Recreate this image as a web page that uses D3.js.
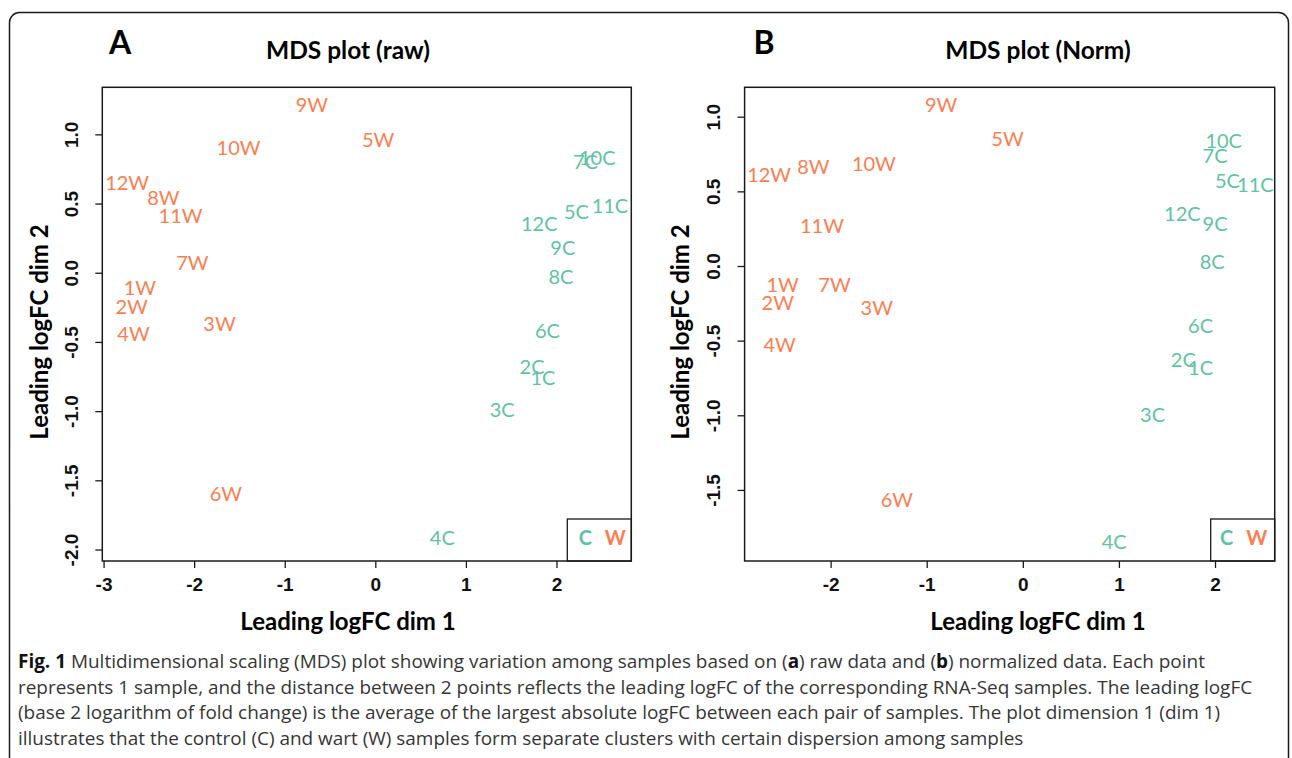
<!DOCTYPE html>
<html>
<head>
<meta charset="utf-8">
<script src="https://cdn.jsdelivr.net/npm/d3@7"></script>
<style>
body { margin: 0; background: #fff; }
svg { display: block; }
</style>
</head>
<body>
<svg id="G1"></svg>
<script>
//* MDS plots, raw and normalised *//

const SAMPLES = ["1W", "2W", "3W", "4W", "5W", "6W", "7W", "8W", "9W", "10W", "11W", "12W",
                 "1C", "2C", "3C", "4C", "5C", "6C", "7C", "8C", "9C", "10C", "11C", "12C"];
const GROUPS = ["W", "W", "W", "W", "W", "W", "W", "W", "W", "W", "W", "W",
                "C", "C", "C", "C", "C", "C", "C", "C", "C", "C", "C", "C"];

const RAW_DIM1 = [-2.60, -2.69, -1.72, -2.67, 0.03, -1.65, -2.02, -2.34, -0.70, -1.51, -2.15, -2.74,
                  1.85, 1.73, 1.40, 0.74, 2.22, 1.90, 2.32, 2.05, 2.07, 2.45, 2.59, 1.81];
const RAW_DIM2 = [-0.11, -0.25, -0.37, -0.44, 0.96, -1.60, 0.07, 0.54, 1.21, 0.90, 0.41, 0.65,
                  -0.76, -0.68, -0.99, -1.92, 0.44, -0.42, 0.80, -0.03, 0.18, 0.83, 0.48, 0.35];

const NORM_DIM1 = [-2.50, -2.55, -1.52, -2.53, -0.16, -1.31, -1.96, -2.18, -0.85, -1.55, -2.09, -2.64,
                   1.85, 1.67, 1.35, 0.95, 2.13, 1.85, 2.00, 1.97, 2.00, 2.09, 2.42, 1.66];
const NORM_DIM2 = [-0.13, -0.25, -0.28, -0.53, 0.85, -1.57, -0.13, 0.66, 1.08, 0.68, 0.27, 0.61,
                   -0.68, -0.63, -1.00, -1.85, 0.57, -0.40, 0.74, 0.03, 0.28, 0.84, 0.54, 0.35];

const RAW_X_TICKS = [-3, -2, -1, 0, 1, 2];
const RAW_Y_TICKS = [-2, -1.5, -1, -0.5, 0, 0.5, 1];
const NORM_X_TICKS = [-2, -1, 0, 1, 2];
const NORM_Y_TICKS = [-1.5, -1, -0.5, 0, 0.5, 1];
const LEGEND = ["C", "W"];

const COLORS = { C: "#5fc3a1", W: "#fc7e50" };
const WIDTH = 1292;
const HEIGHT = 758;
const LABEL_FONT = "Lato, 'Open Sans', sans-serif";
const TICK_FONT = "'Liberation Sans', Arial, sans-serif";

const svg = d3.select('#G1')
.attr('width', WIDTH)
.attr('height', HEIGHT)
;

//Outer frame
svg.append('rect')
.attr('x', 9.5)
.attr('y', 12.5)
.attr('width', 1279)
.attr('height', 820)
.attr('rx', 10)
.attr('fill', 'none')
.attr('stroke', '#1a1a1a')
.attr('stroke-width', 1.5)
;

function drawPanel(p) {
    const g = svg.append('g');

    const x = d3.scaleLinear().domain(p.xDomain).range([p.left, p.right]);
    const y = d3.scaleLinear().domain(p.yDomain).range([p.bottom, p.top]);

    const points = SAMPLES.map((s, i) => ({ name: s, group: GROUPS[i], d1: p.dim1[i], d2: p.dim2[i] }));

    //X axis
    const xAxis = g.append('g')
    .attr('transform', `translate(0, ${p.bottom})`)
    .call(d3.axisBottom(x).tickValues(p.xTicks).tickSize(7).tickSizeOuter(0).tickPadding(10).tickFormat(d => String(d)))
    ;
    xAxis.select('.domain').remove();
    xAxis.selectAll('line').attr('stroke', '#1a1a1a').attr('stroke-width', 1.3);
    xAxis.selectAll('text')
    .attr('font-family', TICK_FONT)
    .attr('font-weight', 'bold')
    .attr('font-size', 19)
    .attr('fill', '#111')
    ;

    //Y axis, labels turned like R's default
    const yAxis = g.append('g')
    .attr('transform', `translate(${p.left}, 0)`)
    .call(d3.axisLeft(y).tickValues(p.yTicks).tickSize(7).tickSizeOuter(0).tickFormat(d => d.toFixed(1)))
    ;
    yAxis.select('.domain').remove();
    yAxis.selectAll('line').attr('stroke', '#1a1a1a').attr('stroke-width', 1.3);
    yAxis.selectAll('text')
    .attr('transform', 'rotate(-90)')
    .attr('x', 0)
    .attr('y', -31)
    .attr('dy', '0.35em')
    .attr('text-anchor', 'middle')
    .attr('font-family', TICK_FONT)
    .attr('font-weight', 'bold')
    .attr('font-size', 19)
    .attr('fill', '#111')
    ;

    //Plot box
    g.append('rect')
    .attr('x', p.left)
    .attr('y', p.top)
    .attr('width', p.right - p.left)
    .attr('height', p.bottom - p.top)
    .attr('fill', 'none')
    .attr('stroke', '#1a1a1a')
    .attr('stroke-width', 1.5)
    ;

    //Sample labels
    g.selectAll('.sample')
    .data(points)
    .enter()
    .append('text')
    .classed('sample', true)
    .attr('x', d => x(d.d1))
    .attr('y', d => y(d.d2))
    .attr('dy', '0.35em')
    .attr('text-anchor', 'middle')
    .attr('font-family', LABEL_FONT)
    .attr('font-size', 20)
    .attr('fill', d => COLORS[d.group])
    .text(d => d.name)
    ;

    //Legend bottom right
    const lg = g.append('g');
    lg.append('rect')
    .attr('x', p.right - 64)
    .attr('y', p.bottom - 42)
    .attr('width', 64)
    .attr('height', 42)
    .attr('fill', 'none')
    .attr('stroke', '#1a1a1a')
    .attr('stroke-width', 1.3)
    ;
    lg.selectAll('.leg')
    .data(LEGEND)
    .enter()
    .append('text')
    .attr('x', (d, i) => p.right - p.legendOffsets[i])
    .attr('y', p.bottom - 23)
    .attr('dy', '0.35em')
    .attr('text-anchor', 'middle')
    .attr('font-family', LABEL_FONT)
    .attr('font-weight', 'bold')
    .attr('font-size', 20)
    .attr('fill', d => COLORS[d])
    .text(d => d)
    ;

    //Titles
    g.append('text')
    .attr('x', p.letterX)
    .attr('y', 54)
    .attr('text-anchor', 'middle')
    .attr('font-family', LABEL_FONT)
    .attr('font-weight', 'bold')
    .attr('font-size', 32)
    .text(p.letter)
    ;
    g.append('text')
    .attr('x', p.titleX)
    .attr('y', 59)
    .attr('text-anchor', 'middle')
    .attr('font-family', LABEL_FONT)
    .attr('font-weight', 'bold')
    .attr('font-size', 24.5)
    .text(p.title)
    ;
    g.append('text')
    .attr('x', p.titleX)
    .attr('y', 630)
    .attr('text-anchor', 'middle')
    .attr('font-family', LABEL_FONT)
    .attr('font-weight', 'bold')
    .attr('font-size', 24)
    .text('Leading logFC dim 1')
    ;
    g.append('text')
    .attr('transform', `translate(${p.yTitleX}, 332) rotate(-90)`)
    .attr('text-anchor', 'middle')
    .attr('dy', '0.35em')
    .attr('font-family', LABEL_FONT)
    .attr('font-weight', 'bold')
    .attr('font-size', 24)
    .text('Leading logFC dim 2')
    ;
}

drawPanel({
    letter: 'A', letterX: 120, title: 'MDS plot (raw)', titleX: 348, yTitleX: 40,
    left: 102.3, right: 631.3, top: 87.3, bottom: 561,
    xDomain: [-3.014, 2.826], yDomain: [-2.083, 1.34],
    xTicks: RAW_X_TICKS, yTicks: RAW_Y_TICKS,
    dim1: RAW_DIM1, dim2: RAW_DIM2, legendOffsets: [46, 16]
});

drawPanel({
    letter: 'B', letterX: 764, title: 'MDS plot (Norm)', titleX: 1038, yTitleX: 681,
    left: 744.6, right: 1274.7, top: 87.3, bottom: 561,
    xDomain: [-2.895, 2.621], yDomain: [-1.976, 1.197],
    xTicks: NORM_X_TICKS, yTicks: NORM_Y_TICKS,
    dim1: NORM_DIM1, dim2: NORM_DIM2, legendOffsets: [48, 18]
});

//Caption
const CAPTION = [
    [["Fig. 1", true], [" Multidimensional scaling (MDS) plot showing variation among samples based on (", false], ["a", true], [") raw data and (", false], ["b", true], [") normalized data. Each point", false]],
    [["represents 1 sample, and the distance between 2 points reflects the leading logFC of the corresponding RNA-Seq samples. The leading logFC", false]],
    [["(base 2 logarithm of fold change) is the average of the largest absolute logFC between each pair of samples. The plot dimension 1 (dim 1)", false]],
    [["illustrates that the control (C) and wart (W) samples form separate clusters with certain dispersion among samples", false]]
];

const caption = svg.append('g')
.attr('font-family', "'Open Sans', 'Noto Sans', sans-serif")
.attr('font-size', 17)
.attr('fill', '#363636')
;
const captionLines = caption.selectAll('text')
.data(CAPTION)
.enter()
.append('text')
.attr('x', 18)
.attr('y', (d, i) => 668 + i * 25.5)
.each(function(line) {
    d3.select(this).selectAll('tspan')
    .data(line)
    .enter()
    .append('tspan')
    .attr('font-weight', d => d[1] ? 'bold' : 'normal')
    .attr('fill', d => d[1] ? '#111' : null)
    .text(d => d[0]);
})
;
// size the caption so its longest line fills the figure like the original
const longest = d3.max(captionLines.nodes(), n => n.getComputedTextLength());
caption.attr('font-size', 17 * 1235 / longest);
</script>
</body>
</html>
